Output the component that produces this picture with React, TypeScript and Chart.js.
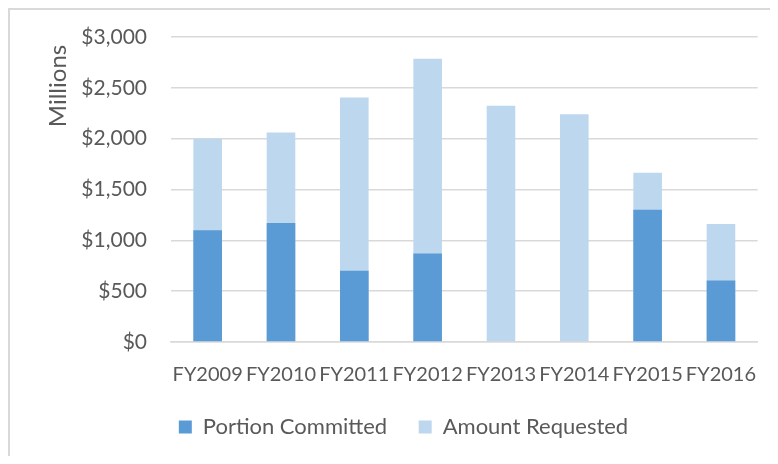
import React, { useEffect, useRef } from "react";
import { Chart, registerables } from "chart.js";

Chart.register(...registerables);

const categories = ["FY2009", "FY2010", "FY2011", "FY2012", "FY2013", "FY2014", "FY2015", "FY2016"];
const portionCommitted = [1100, 1170, 700, 870, 0, 0, 1300, 605];
const amountRequested = [2000, 2060, 2405, 2785, 2325, 2240, 1665, 1160];
const yTicks = [0, 500, 1000, 1500, 2000, 2500, 3000];

const FONT = "Lato, 'Open Sans', sans-serif";
const TEXT = "#595959";

const titlePlugin = {
  id: "yTitle",
  afterDraw(chart: any) {
    const ctx = chart.ctx;
    ctx.save();
    ctx.translate(48, 76);
    ctx.rotate(-Math.PI / 2);
    ctx.font = `24px ${FONT}`;
    ctx.fillStyle = TEXT;
    ctx.textAlign = "center";
    ctx.textBaseline = "middle";
    ctx.fillText("Millions", 0, 0);
    ctx.restore();
  },
};

export default function App() {
  const ref = useRef<HTMLCanvasElement>(null);
  useEffect(() => {
    document.documentElement.style.overflow = "hidden";
    const chart = new Chart(ref.current!, {
      type: "bar",
      data: {
        labels: categories,
        datasets: [
          {
            label: "Portion Committed",
            data: portionCommitted,
            backgroundColor: "#5B9BD5",
            barPercentage: 0.39,
            categoryPercentage: 1,
          },
          {
            label: "Amount Requested",
            data: amountRequested,
            backgroundColor: "#BDD7EE",
            barPercentage: 0.39,
            categoryPercentage: 1,
          },
        ],
      },
      options: {
        animation: false,
        responsive: false,
        maintainAspectRatio: false,
        layout: { padding: { left: 34, right: 15, top: 27, bottom: 8 } },
        plugins: {
          tooltip: { enabled: false },
          legend: {
            position: "bottom",
            labels: {
              boxWidth: 13,
              boxHeight: 13,
              padding: 15,
              color: TEXT,
              font: { family: FONT, size: 22 },
              generateLabels(chart: any) {
                const items = Chart.defaults.plugins.legend.labels.generateLabels(chart);
                return items.map((it: any, i: number) =>
                  i < items.length - 1 ? { ...it, text: it.text + "\u2003" } : it
                );
              },
            },
          },
        },
        scales: {
          x: {
            stacked: true,
            grid: { display: false, drawTicks: false },
            border: { display: true, color: "#d9d9d9", width: 1.5 },
            ticks: { color: TEXT, font: { family: FONT, size: 20 }, padding: 21, maxRotation: 0, autoSkip: false },
            afterFit(scale: any) {
              scale.height = 59;
            },
          },
          y: {
            stacked: false,
            min: 0,
            max: 3000,
            afterBuildTicks(scale: any) {
              scale.ticks = yTicks.map((v) => ({ value: v }));
            },
            grid: { color: "#d9d9d9", lineWidth: 1.5, drawTicks: false },
            border: { display: false },
            ticks: {
              color: TEXT,
              font: { family: FONT, size: 21 },
              padding: 24,
              callback: (v: any) => "$" + Number(v).toLocaleString("en-US"),
            },
            afterFit(scale: any) {
              scale.width = 127;
              scale.paddingTop = 0;
              scale.paddingBottom = 0;
            },
          },
        },
      },
      plugins: [titlePlugin],
    });
    return () => chart.destroy();
  }, []);
  return (
    <div
      style={{
        width: 778,
        height: 448,
        boxSizing: "border-box",
        borderLeft: "2px solid #d9d9d9",
        borderTop: "2px solid #d9d9d9",
      }}
    >
      <canvas ref={ref} width={768} height={446} style={{ display: "block" }} />
    </div>
  );
}
